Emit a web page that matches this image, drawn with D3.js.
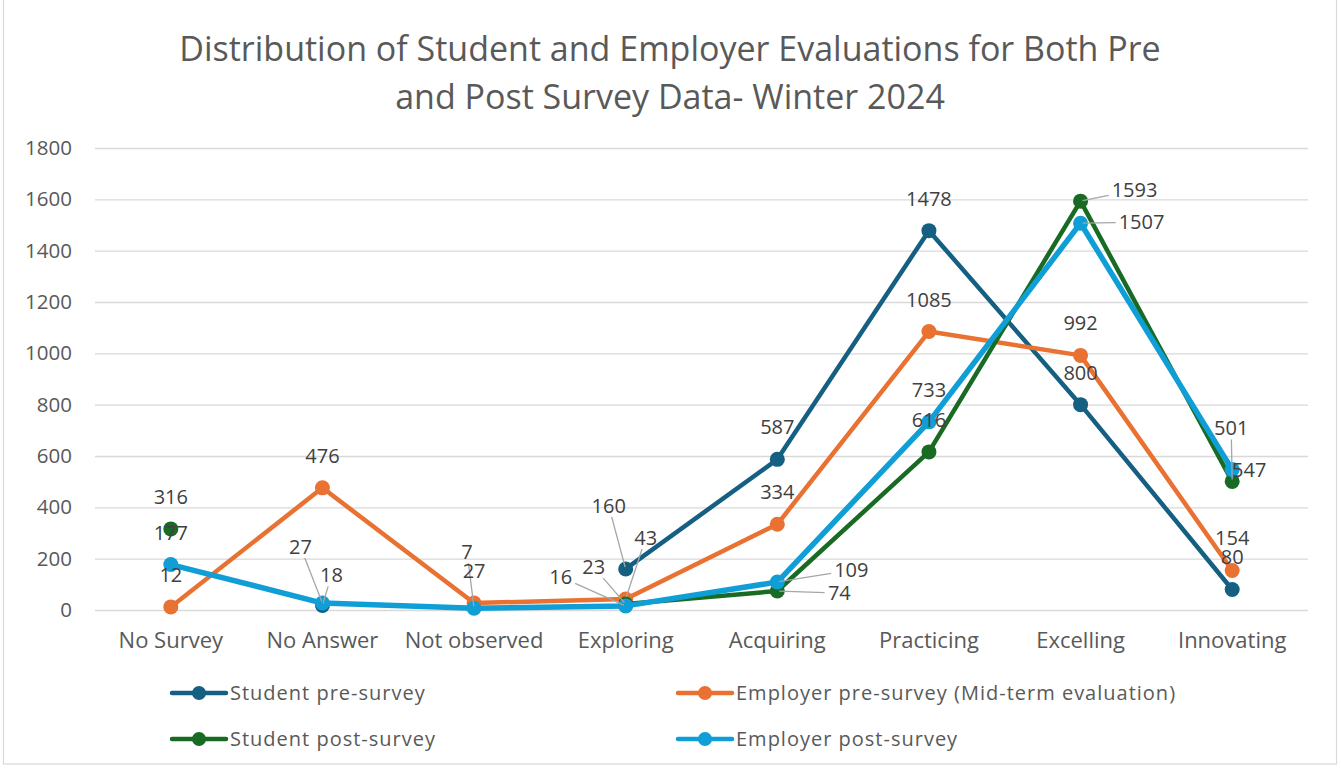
<!DOCTYPE html>
<html>
<head>
<meta charset="utf-8">
<script src="https://cdn.jsdelivr.net/npm/d3@7"></script>
<style>
  html, body { margin: 0; padding: 0; background: #fff; }
  svg { display: block; font-family: "Open Sans", sans-serif; }
</style>
</head>
<body>
<svg id="chart" width="1341" height="772"></svg>
<script>
// ---- data ----
const categories = ["No Survey", "No Answer", "Not observed", "Exploring", "Acquiring", "Practicing", "Excelling", "Innovating"];
const studentPre   = [null, 18, null, 160, 587, 1478, 800, 80];
const employerPre  = [12, 476, 27, 43, 334, 1085, 992, 154];
const studentPost  = [316, null, null, 23, 74, 616, 1593, 501];
const employerPost = [177, 27, 7, 16, 109, 733, 1507, 547];
const seriesNames = ["Student pre-survey", "Employer pre-survey (Mid-term evaluation)", "Student post-survey", "Employer post-survey"];
const yTicks = [0, 200, 400, 600, 800, 1000, 1200, 1400, 1600, 1800];
const titleLines = ["Distribution of Student and Employer Evaluations for Both Pre", "and Post Survey Data- Winter 2024"];

// ---- styles ----
const colors = ["#156082", "#E97132", "#196B24", "#0F9ED5"];
const widths = [4.5, 4.5, 4.5, 5.5];
// manual label placements (offset of label centre from its point), keyed "series|category"
const labelMoves = {
  "3|1": {dx: -22, dy: -56, leader: true},
  "0|1": {dx: 9, dy: -30, leader: true},
  "3|2": {dx: -7, dy: -56, leader: true},
  "0|3": {dx: -17, dy: -63, leader: true},
  "1|3": {dx: 20, dy: -61, leader: true},
  "2|3": {dx: -32, dy: -37, leader: true},
  "3|3": {dx: -65, dy: -29, leader: true},
  "3|4": {dx: 74, dy: -12, leader: true},
  "2|4": {dx: 62, dy: 2, leader: true},
  "2|6": {dx: 54, dy: -11, leader: true},
  "3|6": {dx: 61, dy: -1, leader: true},
  "2|7": {dx: -1, dy: -53, leader: true},
  "3|7": {dx: 17, dy: 0, leader: false}
};

const series = [studentPre, employerPre, studentPost, employerPost];

const svg = d3.select("#chart");
// outer frame
svg.append("rect").attr("x", 3.5).attr("y", -2).attr("width", 1333).attr("height", 766)
  .attr("fill", "#fff").attr("stroke", "#d9d9d9").attr("stroke-width", 1.2);

const x = d3.scaleBand().domain(categories).range([95, 1308]);
const cx = c => x(c) + x.bandwidth() / 2;
const y = d3.scaleLinear().domain([0, 1800]).range([610, 148]);

// title
svg.append("g").selectAll("text").data(titleLines).join("text")
  .attr("x", 670).attr("y", (d, i) => 61 + i * 48)
  .attr("text-anchor", "middle").attr("font-size", 34).attr("fill", "#595959")
  .text(d => d);

// gridlines + y labels
const yAxis = d3.axisLeft(y).tickValues(yTicks).tickFormat(d3.format("d"))
  .tickSize(-(1308 - 95)).tickPadding(23);
const gy = svg.append("g").attr("transform", "translate(95,0)").call(yAxis);
gy.select(".domain").remove();
gy.selectAll(".tick line").attr("stroke", "#d9d9d9").attr("stroke-width", 1.4);
gy.selectAll(".tick text").attr("font-size", 20.5).attr("fill", "#595959")
  .attr("font-family", "Open Sans, sans-serif");

// x labels
const xAxis = d3.axisBottom(x).tickSize(0).tickPadding(22);
const gx = svg.append("g").attr("transform", "translate(0,610)").call(xAxis);
gx.select(".domain").remove();
gx.selectAll(".tick text").attr("font-size", 22).attr("fill", "#595959")
  .attr("font-family", "Open Sans, sans-serif");

// lines
const line = d3.line().defined(d => d.v != null).x(d => cx(d.c)).y(d => y(d.v));
series.forEach((s, si) => {
  const pts = categories.map((c, i) => ({c, v: s[i]}));
  svg.append("path").datum(pts).attr("d", line)
    .attr("fill", "none").attr("stroke", colors[si]).attr("stroke-width", widths[si])
    .attr("stroke-linejoin", "round").attr("stroke-linecap", "round");
  svg.append("g").selectAll("circle").data(pts.filter(d => d.v != null)).join("circle")
    .attr("cx", d => cx(d.c)).attr("cy", d => y(d.v)).attr("r", 7.5)
    .attr("fill", colors[si]);
});

// data labels
const labelG = svg.append("g");
series.forEach((s, si) => {
  categories.forEach((c, ci) => {
    const v = s[ci];
    if (v == null) return;
    const px = cx(c), py = y(v);
    const mv = labelMoves[si + "|" + ci] || {dx: 0, dy: -32, leader: false};
    const lx = px + mv.dx, ly = py + mv.dy;
    const t = labelG.append("text").attr("x", lx).attr("y", ly + 7)
      .attr("text-anchor", "middle").attr("font-size", 20).attr("fill", "#404040").text(v);
    if (mv.leader) {
      const bb = t.node().getBBox();
      const hw = bb.width / 2 + 3, hh = 11;
      const ddx = px - lx, ddy = py - ly;
      const tt = Math.min(Math.abs(ddx) > 0 ? hw / Math.abs(ddx) : Infinity, Math.abs(ddy) > 0 ? hh / Math.abs(ddy) : Infinity);
      const sx = lx + ddx * tt, sy = ly + ddy * tt;
      const len = Math.hypot(ddx, ddy);
      const ex = px - ddx / len * 2, ey = py - ddy / len * 2;
      labelG.insert("line", "text").attr("x1", sx).attr("y1", sy).attr("x2", ex).attr("y2", ey)
        .attr("stroke", "#a6a6a6").attr("stroke-width", 1.3);
    }
  });
});

// legend
const legendPos = [[172, 693], [678, 693], [172, 739], [678, 739]];
const lg = svg.append("g").selectAll("g").data(seriesNames).join("g")
  .attr("transform", (d, i) => `translate(${legendPos[i][0]},${legendPos[i][1]})`);
lg.append("line").attr("x1", 0).attr("x2", 54).attr("y1", 0).attr("y2", 0)
  .attr("stroke", (d, i) => colors[i]).attr("stroke-width", 4.5).attr("stroke-linecap", "round");
lg.append("circle").attr("cx", 27).attr("cy", 0).attr("r", 7).attr("fill", (d, i) => colors[i]);
lg.append("text").attr("x", 58).attr("y", 7).attr("font-size", 20).attr("letter-spacing", 1)
  .attr("fill", "#595959").text(d => d);
</script>
</body>
</html>
